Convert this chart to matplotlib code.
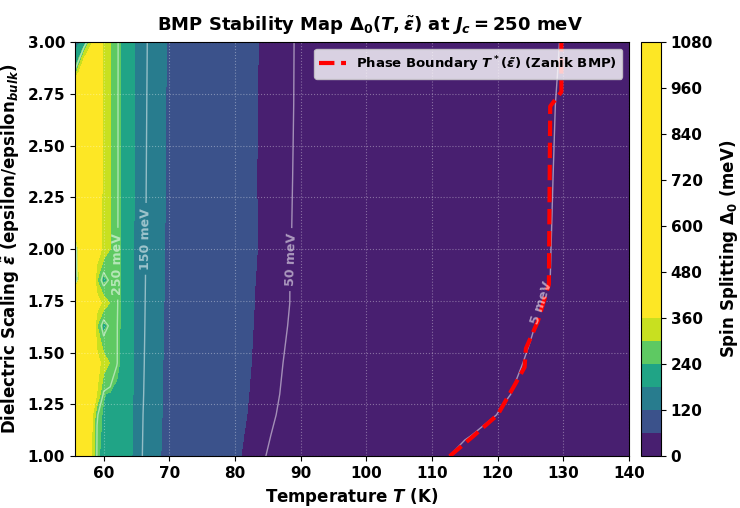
import numpy as np
import matplotlib
matplotlib.use("Agg")
import matplotlib.pyplot as plt

plt.rcParams['font.family'] = ['DejaVu Sans']
plt.rcParams['font.weight'] = 'bold'
plt.rcParams['axes.labelweight'] = 'bold'
plt.rcParams['axes.titleweight'] = 'bold'
plt.rcParams['mathtext.fontset'] = 'custom'
plt.rcParams['mathtext.rm'] = 'DejaVu Sans:bold'
plt.rcParams['mathtext.it'] = 'DejaVu Sans:italic:bold'
plt.rcParams['mathtext.bf'] = 'DejaVu Sans:bold'

# temperature columns (K) and dielectric scaling rows of the Delta_0 table
temps = [55.6, 57, 58, 59, 60, 61, 62, 62.5, 64, 66, 69, 75, 83, 89, 100, 110, 115, 120, 125, 130, 140]
eps_rows = [1.0, 1.1, 1.2, 1.3, 1.45, 1.63, 1.74, 1.85, 2.0, 2.35, 2.7, 2.85, 3.0]

# spin splitting Delta_0 (meV), one list per eps row
d_100 = [620, 500, 380, 245, 232, 224, 215, 210, 186, 148, 117, 80, 53, 42.4, 22, 7, 3.2, 1.5, 0.5, 0, 0]
d_110 = [650, 520, 390, 248, 234, 226, 218, 212, 187, 149, 118, 81, 54.5, 43.5, 25, 10, 5.5, 3.0, 1.0, 0.3, 0]
d_120 = [680, 540, 410, 252, 236, 228, 221, 216, 188, 150, 119, 83, 56, 45, 27, 13, 8, 4.9, 2.0, 0.5, 0]
d_130 = [720, 580, 460, 355, 242, 236, 230, 226, 189, 151, 119.8, 84, 57, 46, 28, 14, 9, 6, 3.5, 1.0, 0]
d_145 = [780, 620, 500, 390, 330, 296, 252, 238, 189, 152, 120.2, 86, 58.2, 46.8, 29, 15, 10, 7, 4.4, 1.5, 0]
d_163 = [820, 650, 500, 300, 220, 262, 252, 240, 190, 153, 120.6, 88, 59.2, 48.2, 30, 16, 11, 8, 5.4, 2.5, 0]
d_174 = [800, 660, 530, 400, 335, 298, 254, 240, 190, 153.5, 121, 89, 59.8, 48.8, 31, 17, 12, 8.5, 6, 3, 0]
d_185 = [130, 600, 500, 300, 220, 262, 253, 240, 191, 154, 121.3, 90, 60.2, 48.8, 31, 17, 12.5, 9, 6.5, 4, 0]
d_200 = [140, 700, 540, 410, 338, 300, 255, 240, 191, 154.5, 121.6, 91, 60.8, 49.2, 32, 18, 13, 9.5, 7, 3.8, 0]
d_235 = [900, 720, 560, 420, 342, 302, 256, 240, 192, 155.5, 122, 92, 60.6, 49.6, 32, 18, 13.5, 10, 7.2, 4, 0]
d_270 = [950, 740, 580, 430, 346, 304, 256, 240, 193, 156.5, 122.3, 93, 60.8, 49.9, 33, 18.5, 14, 10.5, 7.5, 4.2, 0]
d_285 = [260, 500, 600, 435, 348, 305, 256.5, 240, 193.5, 157, 122.5, 93.5, 60.9, 49.95, 33, 18.8, 14.2, 10.8, 7.8, 4.4, 0.3]
d_300 = [150, 200, 320, 440, 350, 306, 257, 240, 194, 157.5, 122.7, 94, 61, 50, 33, 19, 14.5, 11, 8, 4.6, 0.5]

# phase boundary T*(eps)
boundary_eps = [1.0, 1.1, 1.2, 1.35, 1.43, 1.52, 1.65, 1.83, 2.69, 2.76, 3.0]
boundary_T = [112.7, 116.4, 120.0, 122.7, 124.1, 124.3, 126.1, 127.8, 128.0, 129.7, 129.7]

line_levels = [5, 50, 150, 250]

delta = np.array([d_100, d_110, d_120, d_130, d_145, d_163, d_174, d_185,
                  d_200, d_235, d_270, d_285, d_300])
T, E = np.meshgrid(temps, eps_rows)

fig = plt.figure(figsize=(7.4, 5.08), dpi=100)
ax = fig.add_axes([0.101, 0.102, 0.749, 0.815])
cax = fig.add_axes([0.866, 0.103, 0.027, 0.814])

cf = ax.contourf(T, E, delta, levels=np.arange(0, 1081, 60), cmap='viridis', vmin=0, vmax=360)
cs = ax.contour(T, E, delta, levels=line_levels, colors='white', alpha=0.5, linewidths=1)
labels = ax.clabel(cs, fmt='%d meV', fontsize=9, inline=True,
                   manual=[(126.6, 1.74), (88.3, 1.95), (66.2, 2.05), (61.9, 1.93)])
for t in labels:
    t.set_alpha(0.55)
    t.set_fontweight('bold')

ax.plot(boundary_T, boundary_eps, color='red', linestyle='--', linewidth=3,
        label=r'Phase Boundary $T^*(\tilde{\varepsilon})$ (Zanik BMP)')

ax.set_xlim(55.6, 140)
ax.set_ylim(1.0, 3.0)
ax.set_xticks(np.arange(60, 141, 10))
ax.set_yticks(np.arange(1.0, 3.01, 0.25))
ax.yaxis.set_major_formatter(matplotlib.ticker.FormatStrFormatter('%.2f'))
ax.tick_params(labelsize=11)
ax.grid(True, linestyle=':', color='white', alpha=0.35, linewidth=0.8)

ax.set_xlabel(r'Temperature $T$ (K)', fontsize=12)
ax.set_ylabel(r'Dielectric Scaling $\tilde{\varepsilon}$ (epsilon/epsilon$_{bulk}$)', fontsize=12)
fig.suptitle(r'BMP Stability Map $\Delta_0(T, \tilde{\varepsilon})$ at $J_c = 250$ meV',
             fontsize=13, fontweight='bold', y=0.972)
ax.legend(loc='upper right', fontsize=9.5, framealpha=0.8)

cb = fig.colorbar(cf, cax=cax, ticks=np.arange(0, 1081, 120))
cb.ax.tick_params(labelsize=11)
cb.set_label(r'Spin Splitting $\Delta_0$ (meV)', fontsize=12)

fig.savefig('out.png', dpi=100)
